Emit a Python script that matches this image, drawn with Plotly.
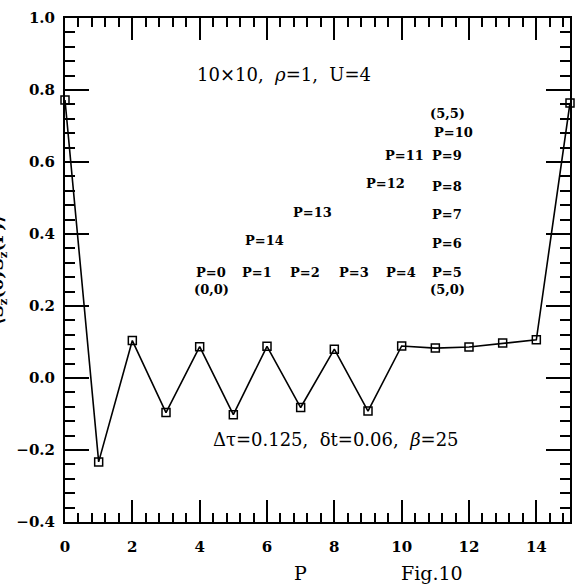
import plotly.graph_objects as go

# Data
P = list(range(16))
corr = [0.772, -0.233, 0.104, -0.096, 0.087, -0.102, 0.088, -0.082,
        0.080, -0.092, 0.089, 0.083, 0.086, 0.097, 0.106, 0.764]

label_text = ["P=0", "(0,0)", "P=1", "P=2", "P=3", "P=4", "P=5", "(5,0)",
              "P=6", "P=7", "P=8", "P=9", "P=10", "(5,5)", "P=11", "P=12",
              "P=13", "P=14"]
label_x = [4.35, 4.35, 5.71, 7.13, 8.58, 9.97, 11.36, 11.36,
           11.36, 11.36, 11.36, 11.36, 11.54, 11.36, 10.09, 9.53,
           7.34, 5.92]
label_y = [0.294, 0.247, 0.294, 0.294, 0.294, 0.294, 0.294, 0.247,
           0.375, 0.453, 0.531, 0.619, 0.683, 0.736, 0.619, 0.539,
           0.461, 0.383]

x_ticks = [0, 2, 4, 6, 8, 10, 12, 14]
y_ticks = [-0.4, -0.2, 0.0, 0.2, 0.4, 0.6, 0.8, 1.0]
y_ticktext = ["−0.4", "−0.2", "0.0", "0.2", "0.4", "0.6", "0.8", "1.0"]

SERIF = "DejaVu Serif"

fig = go.Figure()
fig.add_trace(go.Scatter(
    x=P, y=corr, mode="lines+markers",
    line=dict(color="black", width=1.6),
    marker=dict(symbol="square-open", size=8, color="black",
                line=dict(color="black", width=1.5)),
    showlegend=False, cliponaxis=False))

for t, x, y in zip(label_text, label_x, label_y):
    fig.add_annotation(x=x, y=y, text=t, showarrow=False, xref="x", yref="y",
                       font=dict(family=SERIF, size=13, color="black", weight="bold"))

fig.add_annotation(x=6.5, y=0.842, text="10×10,  <i>ρ</i>=1,  U=4", showarrow=False,
                   font=dict(family=SERIF, size=18, color="black"))
fig.add_annotation(x=8.05, y=-0.172, text="Δτ=0.125,  δt=0.06,  <i>β</i>=25", showarrow=False,
                   font=dict(family=SERIF, size=18, color="black"))

fig.add_annotation(x=7.0, y=-0.4, yshift=-51, text="P", showarrow=False,
                   xref="x", yref="y",
                   font=dict(family=SERIF, size=19, color="black"))
fig.add_annotation(x=10.9, y=-0.4, yshift=-51, text="Fig.10", showarrow=False,
                   xref="x", yref="y",
                   font=dict(family=SERIF, size=19, color="black"))
fig.add_annotation(x=-0.132, y=0.5, xref="paper", yref="paper", textangle=-90,
                   xanchor="center", yanchor="middle",
                   text="⟨S<sub>z</sub>(0)S<sub>z</sub>(P)⟩", showarrow=False,
                   font=dict(family=SERIF, size=17, color="black", weight="bold"))

axis_common = dict(showgrid=False, zeroline=False, showline=True, linecolor="black",
                   linewidth=2, mirror="allticks", ticks="inside", tickcolor="black",
                   tickwidth=1.8,
                   tickfont=dict(family=SERIF, size=15, color="black", weight="bold"))

fig.update_xaxes(range=[0, 15], tickvals=x_ticks, ticklen=22, ticklabelstandoff=10,
                 minor=dict(dtick=0.4, tick0=0, ticklen=9, ticks="inside",
                            tickcolor="black", tickwidth=1.5),
                 **axis_common)
fig.update_yaxes(range=[-0.4, 1.0], tickvals=y_ticks, ticktext=y_ticktext, ticklen=24,
                 ticklabelstandoff=5,
                 minor=dict(dtick=0.04, tick0=0, ticklen=10, ticks="inside",
                            tickcolor="black", tickwidth=1.5),
                 **axis_common)

fig.update_layout(width=581, height=588, margin=dict(l=65, r=9, t=18, b=66),
                  plot_bgcolor="white", paper_bgcolor="white")

fig.write_html("out.html", config={"displayModeBar": False},
               post_script="document.body.style.margin='0';")
